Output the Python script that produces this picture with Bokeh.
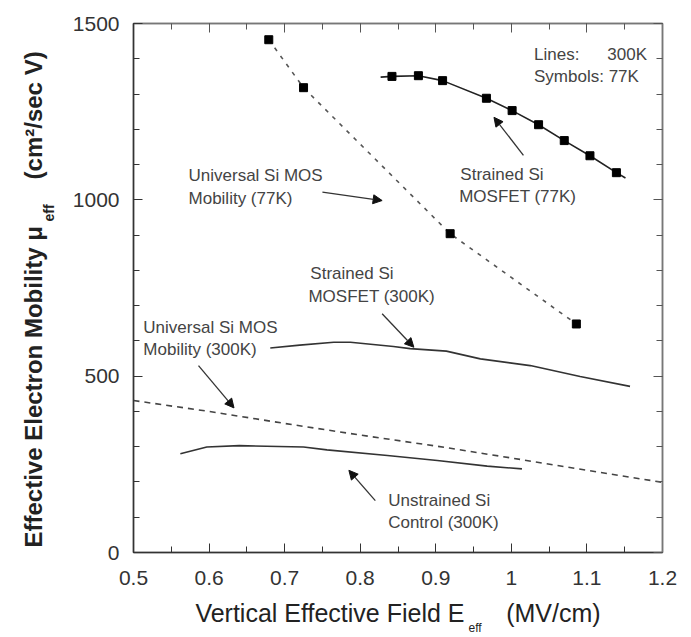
import math
from bokeh.plotting import figure
from bokeh.models import (Range1d, LinearAxis, FixedTicker, CustomJSTickFormatter,
                          Label, Arrow, NormalHead, Title)
from bokeh.embed import file_html
from bokeh.resources import INLINE

# ---------------- data ----------------
# Strained Si MOSFET, 77K (symbols) and its fitted line
strained77_x = [0.842, 0.877, 0.909, 0.967, 1.001, 1.036, 1.070, 1.104, 1.139]
strained77_y = [1350, 1352, 1338, 1288, 1253, 1213, 1168, 1125, 1077]
strained77_line_x = [0.827, 0.842, 0.877, 0.909, 0.967, 1.001, 1.036, 1.070, 1.104, 1.139, 1.151]
strained77_line_y = [1348, 1350, 1352, 1338, 1288, 1253, 1213, 1168, 1125, 1077, 1062]

# Universal Si MOS mobility, 77K (symbols joined by a dashed line)
univ77_x = [0.679, 0.725, 0.919, 1.086]
univ77_y = [1454, 1318, 904, 648]

# Strained Si MOSFET, 300K (solid line)
strained300_x = [0.681, 0.720, 0.765, 0.787, 0.844, 0.866, 0.914, 0.959, 1.025, 1.091, 1.157]
strained300_y = [580, 588, 596, 596, 584, 578, 571, 549, 530, 499, 471]

# Universal Si MOS mobility, 300K (dashed line)
univ300_x = [0.5, 0.6, 0.7, 0.8, 0.9, 1.0, 1.1, 1.2]
univ300_y = [431, 400, 366, 333, 302, 268, 233, 199]

# Unstrained Si control, 300K (solid line)
control300_x = [0.562, 0.597, 0.640, 0.725, 0.756, 0.836, 0.902, 0.968, 1.014]
control300_y = [280, 299, 303, 299, 291, 275, 261, 245, 237]

x_ticks = [0.5, 0.6, 0.7, 0.8, 0.9, 1.0, 1.1, 1.2]
x_minor = [round(0.5 + 0.05 * i, 2) for i in range(15)]
y_ticks = [0, 500, 1000, 1500]
y_minor = list(range(0, 1501, 100))

FONT = "Liberation Sans"
TXT = "#444444"
NB = "\u00a0"

p = figure(width=683, height=636, output_backend="svg", toolbar_location=None,
           x_range=Range1d(0.5, 1.2), y_range=Range1d(0, 1500),
           min_border_left=133, min_border_right=21, min_border_top=23, min_border_bottom=84)
p.xgrid.visible = False
p.ygrid.visible = False
p.outline_line_color = "#777777"
p.outline_line_width = 1.5
p.background_fill_color = "white"
p.border_fill_color = "white"

fmt = CustomJSTickFormatter(code="return String(Number(tick.toFixed(2)));")
blank = CustomJSTickFormatter(code="return '';")

for ax in (p.xaxis[0], p.yaxis[0]):
    ax.major_tick_in = 9
    ax.major_tick_out = 0
    ax.minor_tick_in = 6
    ax.minor_tick_out = 0
    ax.axis_line_color = "#333333"
    ax.axis_line_width = 1.5
    ax.major_tick_line_color = "#333333"
    ax.minor_tick_line_color = "#333333"
    ax.major_label_text_font = FONT
    ax.major_label_text_font_size = "21px"
    ax.major_label_text_color = "#333333"
    ax.formatter = fmt

p.xaxis[0].ticker = FixedTicker(ticks=x_ticks, minor_ticks=x_minor)
p.yaxis[0].ticker = FixedTicker(ticks=y_ticks, minor_ticks=y_minor)
p.xaxis[0].major_label_standoff = 18
p.yaxis[0].major_label_standoff = 14
p.yaxis[0].major_label_text_baseline = "alphabetic"

# x-axis title (main part) as the axis label; its subscript is a Title row below
TITLE = "#222222"
p.xaxis[0].axis_label = "Vertical Effective Field E" + NB * 6 + "(MV/cm)"
p.xaxis[0].axis_label_text_font = FONT
p.xaxis[0].axis_label_text_font_size = "25px"
p.xaxis[0].axis_label_text_font_style = "normal"
p.xaxis[0].axis_label_text_color = TITLE
p.xaxis[0].axis_label_standoff = 11

top = LinearAxis(ticker=FixedTicker(ticks=x_ticks, minor_ticks=x_minor), formatter=blank)
right = LinearAxis(ticker=FixedTicker(ticks=y_ticks, minor_ticks=y_minor), formatter=blank)
for ax in (top, right):
    ax.major_tick_in = 9
    ax.major_tick_out = 0
    ax.minor_tick_in = 6
    ax.minor_tick_out = 0
    ax.axis_line_color = "#777777"
    ax.axis_line_width = 1.5
    ax.major_tick_line_color = "#555555"
    ax.minor_tick_line_color = "#555555"
    ax.major_label_text_font_size = "1px"
    ax.major_label_standoff = 0
p.add_layout(top, "above")
p.add_layout(right, "right")

# ---------------- series ----------------
p.line(univ300_x, univ300_y, line_color="#444444", line_width=1.6, line_dash="6 5")
p.line(control300_x, control300_y, line_color="#333333", line_width=1.6)
p.line(strained300_x, strained300_y, line_color="#333333", line_width=1.6)
p.line(univ77_x, univ77_y, line_color="#555555", line_width=1.6, line_dash="4 6")
p.scatter(univ77_x, univ77_y, marker="square", size=8, fill_color="black", line_color="black")
p.line(strained77_line_x, strained77_line_y, line_color="#222222", line_width=1.6)
p.scatter(strained77_x, strained77_y, marker="square", size=8, fill_color="black", line_color="black")

# ---------------- annotations ----------------
def note(x, y, text, size="17px", color=TXT, align="left"):
    p.add_layout(Label(x=x, y=y, text=text, text_font=FONT, text_font_size=size,
                       text_color=color, text_align=align, text_baseline="middle"))

note(1.030, 1412, "Lines:")
note(1.127, 1412, "300K")
note(1.030, 1350, "Symbols: 77K")

note(0.9325, 1072, "Strained Si")
note(0.931, 1009, "MOSFET (77K)")
note(0.5728, 1069, "Universal Si MOS")
note(0.5728, 1004, "Mobility (77K)")
note(0.734, 791, "Strained Si")
note(0.7315, 726, "MOSFET (300K)")
note(0.513, 638, "Universal Si MOS")
note(0.513, 576, "Mobility (300K)")
note(0.837, 147, "Unstrained Si")
note(0.837, 85, "Control (300K)")

arrows = [((1.016, 1126), (0.977, 1234)),
          ((0.750, 1022), (0.829, 998)),
          ((0.829, 677), (0.871, 582)),
          ((0.586, 530), (0.633, 410)),
          ((0.820, 147), (0.785, 233))]
for (x0, y0), (x1, y1) in arrows:
    p.add_layout(Arrow(x_start=x0, y_start=y0, x_end=x1, y_end=y1,
                       line_color="#333333", line_width=1.3,
                       end=NormalHead(size=9, fill_color="#111111", line_color="#111111")))

# ---------------- subscripts / y title (side-panel titles) ----------------
p.add_layout(Title(text="eff", align="left", offset=335, standoff=-17, vertical_align="top",
                   text_font=FONT, text_font_size="12px", text_font_style="normal",
                   text_color=TITLE), "below")

p.add_layout(Title(text="eff", align="left", offset=331, standoff=26, text_font=FONT,
                   text_font_size="14px", text_font_style="bold", text_color=TITLE), "left")
p.add_layout(Title(text="Effective Electron Mobility \u03bc" + NB * 7 + "(cm\u00b2/sec V)",
                   align="left", offset=5, standoff=-42, text_font=FONT,
                   text_font_size="24px", text_font_style="bold", text_color=TITLE), "left")

open("out.html", "w").write(file_html(p, INLINE))
